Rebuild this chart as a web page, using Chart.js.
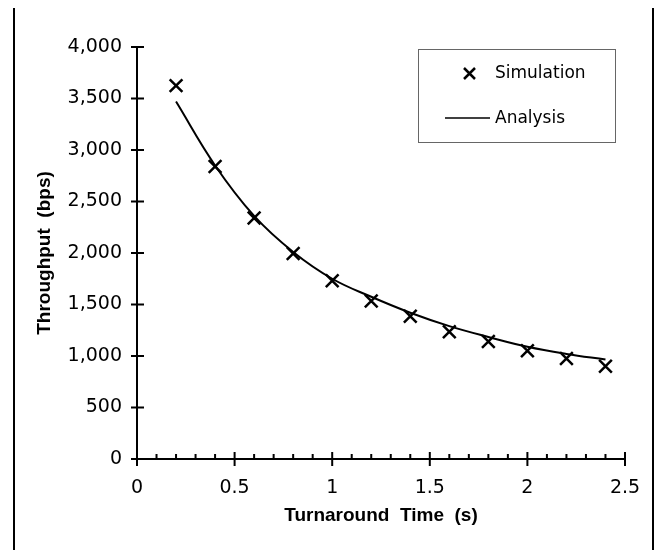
<!DOCTYPE html>
<html>
<head>
<meta charset="utf-8">
<script src="https://cdn.jsdelivr.net/npm/chart.js@4/dist/chart.umd.min.js"></script>
<style>
  html, body { margin: 0; padding: 0; background: #fff; }
  #wrap { width: 665px; height: 550px; position: relative; }
</style>
</head>
<body>
<div id="wrap"><canvas id="throughputChart"></canvas></div>
<script>
var turnaround = [0.2, 0.4, 0.6, 0.8, 1.0, 1.2, 1.4, 1.6, 1.8, 2.0, 2.2, 2.4];
var simulation = [3625, 2840, 2340, 1995, 1730, 1535, 1385, 1235, 1140, 1050, 975, 900];
var analysis = [3470, 2850, 2360, 2010, 1750, 1575, 1420, 1290, 1185, 1090, 1020, 965];
var seriesNames = ['Simulation', 'Analysis'];
var xTitle = 'Turnaround  Time  (s)';
var yTitle = 'Throughput  (bps)';

var tickFont = { family: 'DejaVu Sans', size: 19 };
var titleFont = { family: 'Liberation Sans', size: 19, weight: 'bold' };

// tick marks that cross the axis, plus minor ticks on x
var axisTicks = {
    id: 'axisTicks',
    afterDraw: function (chart) {
        var ctx = chart.ctx;
        var xs = chart.scales.x, ys = chart.scales.y;
        var x0 = xs.getPixelForValue(0), y0 = ys.getPixelForValue(0);
        ctx.save();
        ctx.strokeStyle = '#000';
        ctx.lineWidth = 2;
        ctx.beginPath();
        for (var v = 0; v <= 4000; v += 500) {
            var py = ys.getPixelForValue(v);
            ctx.moveTo(x0 - 6, py);
            ctx.lineTo(x0 + 7, py);
        }
        for (var i = 0; i <= 25; i++) {
            var px = xs.getPixelForValue(i / 10);
            if (i % 5 === 0) {
                ctx.moveTo(px, y0 - 7);
                ctx.lineTo(px, y0 + 7);
            } else {
                ctx.moveTo(px, y0 - 5);
                ctx.lineTo(px, y0);
            }
        }
        ctx.stroke();

        // outer frame, left and right only
        ctx.beginPath();
        ctx.moveTo(14, 8);
        ctx.lineTo(14, 550);
        ctx.moveTo(653, 8);
        ctx.lineTo(653, 550);
        ctx.stroke();
        ctx.restore();
    }
};

// boxed legend inside the plot
var boxLegend = {
    id: 'boxLegend',
    afterDraw: function (chart) {
        var ctx = chart.ctx;
        ctx.save();
        ctx.strokeStyle = '#666';
        ctx.lineWidth = 1;
        ctx.strokeRect(418.5, 49.5, 197, 93);
        ctx.fillStyle = '#000';
        ctx.font = '17px "DejaVu Sans"';
        ctx.textBaseline = 'middle';
        ctx.textAlign = 'left';

        ctx.strokeStyle = '#000';
        ctx.lineWidth = 2.5;
        ctx.beginPath();
        ctx.moveTo(464, 68);
        ctx.lineTo(475, 79);
        ctx.moveTo(475, 68);
        ctx.lineTo(464, 79);
        ctx.stroke();
        ctx.fillText(seriesNames[0], 495, 74);

        ctx.lineWidth = 1.5;
        ctx.beginPath();
        ctx.moveTo(445, 118);
        ctx.lineTo(490, 118);
        ctx.stroke();
        ctx.fillText(seriesNames[1], 495, 119);
        ctx.restore();
    }
};

new Chart(document.getElementById('throughputChart'), {
    type: 'scatter',
    data: {
        datasets: [{
            label: seriesNames[0],
            data: turnaround.map((t, i) => ({ x: t, y: simulation[i] })),
            pointStyle: 'crossRot',
            pointRadius: 9,
            pointHoverRadius: 9,
            borderColor: '#000',
            backgroundColor: '#000',
            pointBorderWidth: 2.5,
            showLine: false
        }, {
            label: seriesNames[1],
            data: turnaround.map((t, i) => ({ x: t, y: analysis[i] })),
            showLine: true,
            pointRadius: 0,
            borderColor: '#000',
            borderWidth: 2,
            tension: 0.4,
            fill: false
        }]
    },
    options: {
        responsive: true,
        maintainAspectRatio: false,
        animation: false,
        layout: { padding: { left: 0, top: 47, right: 40, bottom: 0 } },
        plugins: {
            legend: { display: false },
            tooltip: { enabled: false }
        },
        scales: {
            x: {
                min: 0,
                max: 2.5,
                afterFit: function (s) { s.height = 91; },
                grid: { display: false, drawTicks: false },
                border: { display: true, color: '#000', width: 2 },
                ticks: {
                    stepSize: 0.5, color: '#000', font: tickFont, padding: 18, maxRotation: 0,
                    callback: function (v) { return String(+v.toFixed(1)); }
                },
                title: { display: true, text: xTitle, color: '#000', font: titleFont, padding: { top: 0, bottom: 23 } }
            },
            y: {
                min: 0,
                max: 4000,
                afterFit: function (s) { s.width = 137; },
                grid: { display: false, drawTicks: false },
                border: { display: true, color: '#000', width: 2 },
                ticks: { stepSize: 500, color: '#000', font: tickFont, padding: 15 },
                title: { display: true, text: yTitle, color: '#000', font: titleFont, padding: { top: 33, bottom: 0 } }
            }
        }
    },
    plugins: [axisTicks, boxLegend]
});
</script>
</body>
</html>
